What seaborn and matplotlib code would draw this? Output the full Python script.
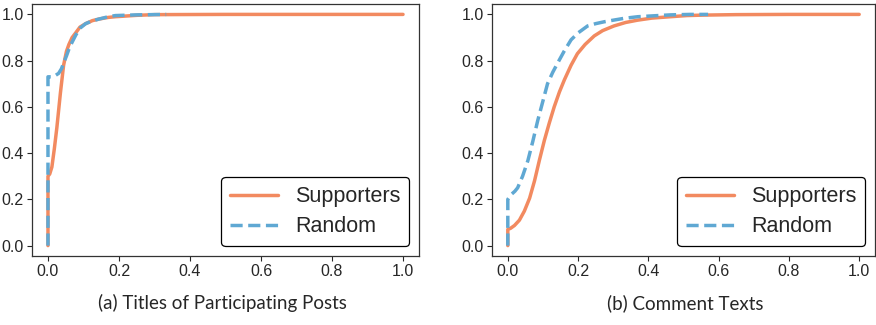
import numpy as np
import pandas as pd
import matplotlib
matplotlib.use("Agg")
import matplotlib.pyplot as plt
import seaborn as sns

# ---- data (CDF points) ----
a_sup_x = [0.0, 0.0, 0.005, 0.011, 0.018, 0.025, 0.035, 0.044, 0.052, 0.059, 0.068, 0.078, 0.09, 0.106, 0.125, 0.144, 0.17, 0.19, 0.25, 0.3, 0.5, 1.0]
a_sup_y = [0.0, 0.30, 0.31, 0.34, 0.42, 0.51, 0.66, 0.78, 0.84, 0.87, 0.90, 0.92, 0.945, 0.96, 0.973, 0.98, 0.987, 0.99, 0.996, 0.999, 1.0, 1.0]
a_rnd_x = [0.0, 0.0, 0.005, 0.011, 0.02, 0.03, 0.038, 0.044, 0.052, 0.059, 0.068, 0.078, 0.09, 0.106, 0.125, 0.144, 0.17, 0.19, 0.25, 0.333]
a_rnd_y = [0.0, 0.73, 0.73, 0.73, 0.735, 0.745, 0.765, 0.79, 0.82, 0.85, 0.88, 0.91, 0.94, 0.96, 0.972, 0.98, 0.99, 0.995, 0.998, 1.0]
b_sup_x = [0.0, 0.0, 0.008, 0.019, 0.033, 0.047, 0.062, 0.076, 0.09, 0.104, 0.118, 0.132, 0.147, 0.161, 0.18, 0.198, 0.22, 0.246, 0.27, 0.302, 0.335, 0.369, 0.41, 0.463, 0.51, 0.558, 0.65, 0.8, 1.0]
b_sup_y = [0.0, 0.07, 0.075, 0.087, 0.11, 0.149, 0.205, 0.28, 0.37, 0.455, 0.53, 0.60, 0.665, 0.717, 0.78, 0.83, 0.87, 0.907, 0.93, 0.95, 0.965, 0.975, 0.984, 0.99, 0.995, 0.997, 0.999, 1.0, 1.0]
b_rnd_x = [0.0, 0.0, 0.009, 0.02, 0.028, 0.042, 0.057, 0.071, 0.085, 0.099, 0.113, 0.128, 0.142, 0.16, 0.18, 0.2, 0.227, 0.25, 0.274, 0.3, 0.331, 0.37, 0.416, 0.463, 0.52, 0.57]
b_rnd_y = [0.0, 0.20, 0.22, 0.235, 0.25, 0.30, 0.367, 0.45, 0.54, 0.62, 0.70, 0.75, 0.79, 0.84, 0.89, 0.92, 0.95, 0.96, 0.968, 0.975, 0.983, 0.99, 0.994, 0.998, 1.0, 1.0]

series_names = ["Supporters", "Random"]
captions = ["(a) Titles of Participating Posts", "(b) Comment Texts"]
ticks = [0.0, 0.2, 0.4, 0.6, 0.8, 1.0]

sns.set_style("ticks")
plt.rcParams['font.family'] = ['Liberation Sans', 'DejaVu Sans']
plt.rcParams['font.sans-serif'] = ['Liberation Sans', 'DejaVu Sans']

fig = plt.figure(figsize=(8.76, 3.25), dpi=100)
W, H = 876, 325
ax1 = fig.add_axes([32 / W, (H - 256) / H, 387 / W, 252 / H])
ax2 = fig.add_axes([492 / W, (H - 256) / H, 383 / W, 252 / H])

orange = "#F28A60"
blue = "#5FA8D3"

panels = [
    (ax1, (a_sup_x, a_sup_y), (a_rnd_x, a_rnd_y)),
    (ax2, (b_sup_x, b_sup_y), (b_rnd_x, b_rnd_y)),
]
for ax, sup, rnd in panels:
    sns.lineplot(x=sup[0], y=sup[1], ax=ax, color=orange, lw=2.5, estimator=None, sort=False,
                 label=series_names[0])
    sns.lineplot(x=rnd[0], y=rnd[1], ax=ax, color=blue, lw=2.5, estimator=None, sort=False,
                 label=series_names[1], linestyle=(0, (3.5, 1.6)))
    ax.set_xlim(-0.045, 1.045)
    ax.set_ylim(-0.045, 1.045)
    ax.set_xticks(ticks)
    ax.set_yticks(ticks)
    ax.set_xticklabels([f"{t:.1f}" for t in ticks], family=['Liberation Sans', 'DejaVu Sans'])
    ax.set_yticklabels([f"{t:.1f}" for t in ticks], family=['Liberation Sans', 'DejaVu Sans'])
    ax.tick_params(labelsize=11.5, length=3.5, width=0.8, pad=2.5)
    for s in ax.spines.values():
        s.set_linewidth(0.9)
        s.set_color("#333333")
    leg = ax.legend(loc="lower right", frameon=True, fancybox=True,
                    prop={'family': ['Liberation Sans', 'DejaVu Sans'], 'size': 15.5},
                    edgecolor="black", framealpha=1, handlelength=2.2,
                    borderaxespad=0.45, labelspacing=0.42, borderpad=0.42)
    leg.get_frame().set_linewidth(0.9)

fig.text(222 / W, 1 - 303 / H, captions[0], ha="center", va="center", fontsize=13.5, family=["Lato", "DejaVu Sans"])
fig.text(685 / W, 1 - 303 / H, captions[1], ha="center", va="center", fontsize=13.5, family=["Lato", "DejaVu Sans"])

fig.savefig("out.png", dpi=100)
